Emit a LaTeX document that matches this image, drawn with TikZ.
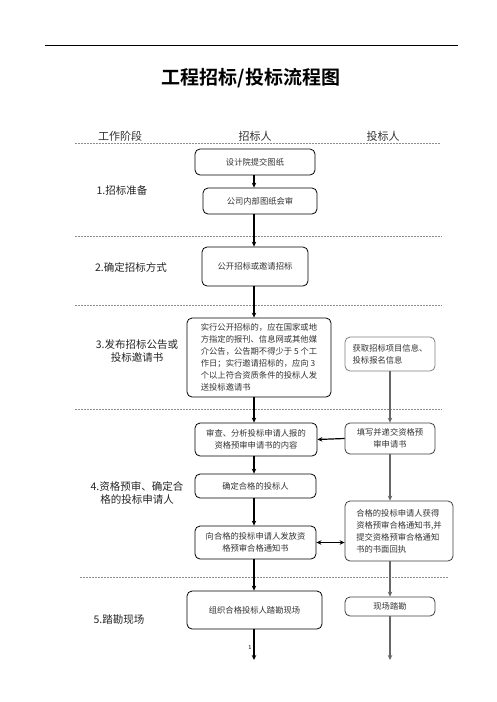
\documentclass[tikz,border=0pt]{standalone}
\usepackage{fontspec}
\newfontfamily\cjk{Noto Sans CJK SC}
\newfontfamily\cjkb{Noto Sans CJK SC Bold}
\usetikzlibrary{arrows.meta}
\tikzset{
  box/.style={draw, rounded corners=5pt, line width=0.8pt, align=center, inner sep=2pt,
    font=\cjk\fontsize{8.3}{12}\selectfont, text=black!80},
  rbox/.style={box, draw=black!75},
  lbl/.style={font=\cjk\fontsize{10.5}{12.5}\selectfont, align=center, text=black!85},
  hdr/.style={font=\cjk\fontsize{11}{13}\selectfont, text=black!80},
  sep/.style={draw=black!45, dashed, dash pattern=on 2pt off 1pt, line width=0.8pt},
  larr/.style={line width=1.3pt, -{Stealth[length=5pt,width=4.5pt]}},
  rarr/.style={line width=1.2pt, draw=black!60, -{Stealth[length=5pt,width=4.5pt]}},
}
\begin{document}
\begin{tikzpicture}[x=1pt,y=-1pt]
\useasboundingbox (0,0) rectangle (496,702);
\fill[white] (0,0) rectangle (496,702);
% top rule and title
\coordinate (tl) at (45,45);
\coordinate (tr) at (458,45);
\draw[line width=0.8pt] (tl) -- (tr);
\node[font=\cjkb\fontsize{19}{22}\selectfont] (title) at (251,78) {工程招标/投标流程图};
% header
\node[hdr] (h1) at (120,136) {工作阶段};
\node[hdr] (h2) at (255,136) {招标人};
\node[hdr] (h3) at (383,136) {投标人};
% separators
\coordinate (s0a) at (75,143); \coordinate (s0b) at (440,143);
\coordinate (s1a) at (75,236); \coordinate (s1b) at (442,236);
\coordinate (s2a) at (75,305); \coordinate (s2b) at (442,305);
\coordinate (s3a) at (75,409); \coordinate (s3b) at (442,409);
\coordinate (s4a) at (80,577); \coordinate (s4b) at (448,577);
\draw[sep] (s0a) -- (s0b);
\draw[sep] (s1a) -- (s1b);
\draw[sep] (s2a) -- (s2b);
\draw[sep] (s3a) -- (s3b);
\draw[sep] (s4a) -- (s4b);
% stage labels
\node[lbl] (l1) at (122,190) {1.招标准备};
\node[lbl] (l2) at (131,267) {2.确定招标方式};
\node[lbl] (l3) at (137,351) {3.发布招标公告或\\投标邀请书};
\node[lbl] (l4) at (137,493) {4.资格预审、确定合\\格的投标申请人};
\node[lbl] (l5) at (119,620) {5.踏勘现场};
% column coordinates
\coordinate (cl) at (254,0);
\coordinate (cr) at (390,0);
% left boxes
\node[box, minimum width=120pt, minimum height=26pt] (b1) at (255,162) {设计院提交图纸};
\node[box, minimum width=114pt, minimum height=26pt] (b2) at (260,201) {公司内部图纸会审};
\node[box, minimum width=106pt, minimum height=39pt] (b3) at (255,266.5) {公开招标或邀请招标};
\node[box, minimum width=144pt, minimum height=79pt, align=left] (b4) at (259,357.5)
  {实行公开招标的，应在国家或地\\方指定的报刊、信息网或其他媒\\介公告，公告期不得少于 5 个工\\作日；实行邀请招标的，应向 3\\个以上符合资质条件的投标人发\\送投标邀请书};
\node[box, minimum width=122pt, minimum height=33pt] (b6) at (256,439.5) {审查、分析投标申请人报的\\资格预审申请书的内容};
\node[box, minimum width=121pt, minimum height=24pt] (b8) at (255.5,486) {确定合格的投标人};
\node[box, minimum width=121pt, minimum height=33pt] (b9) at (255.5,542.5) {向合格的投标申请人发放资\\格预审合格通知书};
\node[box, minimum width=135pt, minimum height=38pt] (b11) at (254.5,610) {组织合格投标人踏勘现场};
% right boxes
\node[rbox, draw=black!50, minimum width=90pt, minimum height=34pt, align=left] (b5) at (390,354) {获取招标项目信息、\\投标报名信息};
\node[rbox, minimum width=90pt, minimum height=31pt] (b7) at (390,438.5) {填写并递交资格预\\审申请书};
\node[rbox, minimum width=108pt, minimum height=60pt, align=left] (b10) at (399,531) {合格的投标申请人获得\\资格预审合格通知书,并\\提交资格预审合格通知\\书的书面回执};
\node[rbox, minimum width=90pt, minimum height=19pt] (b12) at (390,606.5) {现场踏勘};
% ends
\coordinate (e1) at (254,660);
\coordinate (e2) at (390,660);
\node[font=\sffamily\fontsize{6}{7}\selectfont] (pg) at (250,647) {1};
% left connectors
\draw[larr] (b1.south -| cl) -- (b2.north -| cl);
\draw[larr] (b2.south -| cl) -- (b3.north -| cl);
\draw[larr] (b3.south -| cl) -- (b4.north -| cl);
\draw[larr] (b4.south -| cl) -- (b6.north -| cl);
\draw[larr] (b6.south -| cl) -- (b8.north -| cl);
\draw[larr] (b8.south -| cl) -- (b9.north -| cl);
\draw[larr] (b9.south -| cl) -- (b11.north -| cl);
\draw[larr] (b11.south -| cl) -- (e1);
% right connectors
\draw[rarr] (b5.south -| cr) -- (b7.north -| cr);
\draw[rarr] (b7.south -| cr) -- (b10.north -| cr);
\draw[rarr] (b10.south -| cr) -- (b12.north -| cr);
\draw[rarr] (b12.south -| cr) -- (e2);
% horizontal connectors
\draw[line width=1.2pt, -{Stealth[length=5pt,width=4.5pt]}] (b7.west) -- (b6.east);
\draw[line width=1.2pt, {Stealth[length=5pt,width=4.5pt]}-{Stealth[length=5pt,width=4.5pt]}] (b9.east) -- (b9.east -| b10.west);
\end{tikzpicture}
\end{document}
